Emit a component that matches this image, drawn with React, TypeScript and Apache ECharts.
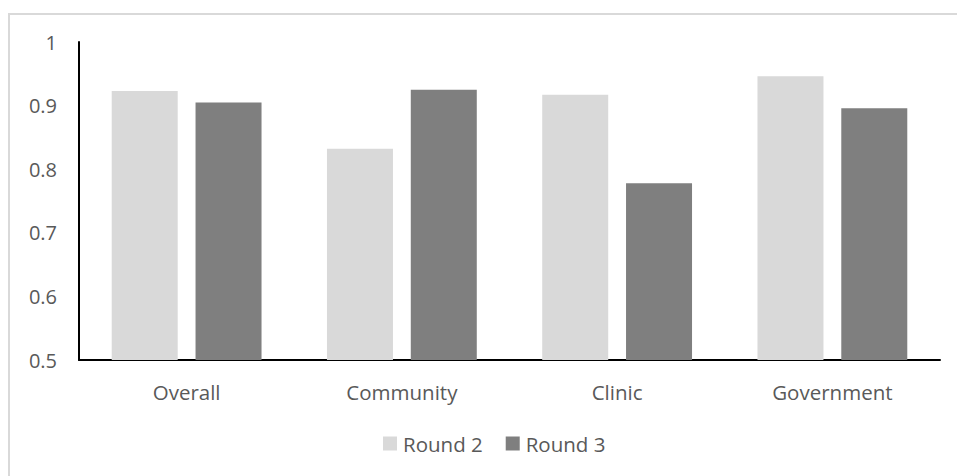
import React, { useEffect, useRef } from "react";
import * as echarts from "echarts";

const categories = ["Overall", "Community", "Clinic", "Government"];
const round2 = [0.923, 0.832, 0.917, 0.946];
const round3 = [0.905, 0.925, 0.778, 0.896];
const seriesNames = ["Round 2", "Round 3"];

export default function App() {
  const ref = useRef<HTMLDivElement>(null);
  useEffect(() => {
    if (!ref.current) return;
    const chart = echarts.init(ref.current, undefined, { renderer: "svg" });
    const font = "'Open Sans', 'Noto Sans', sans-serif";
    chart.setOption({
      animation: false,
      backgroundColor: "#ffffff",
      textStyle: { fontFamily: font },
      graphic: [
        {
          type: "rect",
          shape: { x: 9, y: 14, width: 1000, height: 500 },
          style: { fill: "none", stroke: "#d9d9d9", lineWidth: 2 },
          silent: true,
          z: -1,
        },
      ],
      grid: { left: 79, right: 17, top: 42, bottom: 116 },
      legend: {
        data: seriesNames,
        top: 433,
        left: 383,
        padding: 0,
        itemWidth: 14,
        itemHeight: 14,
        itemGap: 23,
        icon: "rect",
        textStyle: { color: "#595959", fontSize: 20.5, fontFamily: font, padding: [0, 0, 0, 1] },
      },
      xAxis: {
        type: "category",
        data: categories,
        axisLine: { lineStyle: { color: "#000000", width: 2 } },
        axisTick: { show: false },
        axisLabel: { color: "#595959", fontSize: 20.5, margin: 21, fontFamily: font },
      },
      yAxis: {
        type: "value",
        min: 0.5,
        max: 1,
        interval: 0.1,
        axisLine: { show: true, lineStyle: { color: "#000000", width: 2 } },
        axisTick: { show: false },
        splitLine: { show: false },
        axisLabel: { color: "#595959", fontSize: 20, margin: 22, fontFamily: font },
      },
      series: [
        {
          name: seriesNames[0],
          type: "bar",
          data: round2,
          barWidth: 66,
          barGap: "27%",
          itemStyle: { color: "#d9d9d9" },
        },
        {
          name: seriesNames[1],
          type: "bar",
          data: round3,
          barWidth: 66,
          barGap: "27%",
          itemStyle: { color: "#7f7f7f" },
        },
      ],
    });
    return () => chart.dispose();
  }, []);
  return (
    <div
      ref={ref}
      style={{ position: "fixed", left: 0, top: 0, width: 957, height: 476, background: "#fff" }}
    />
  );
}
